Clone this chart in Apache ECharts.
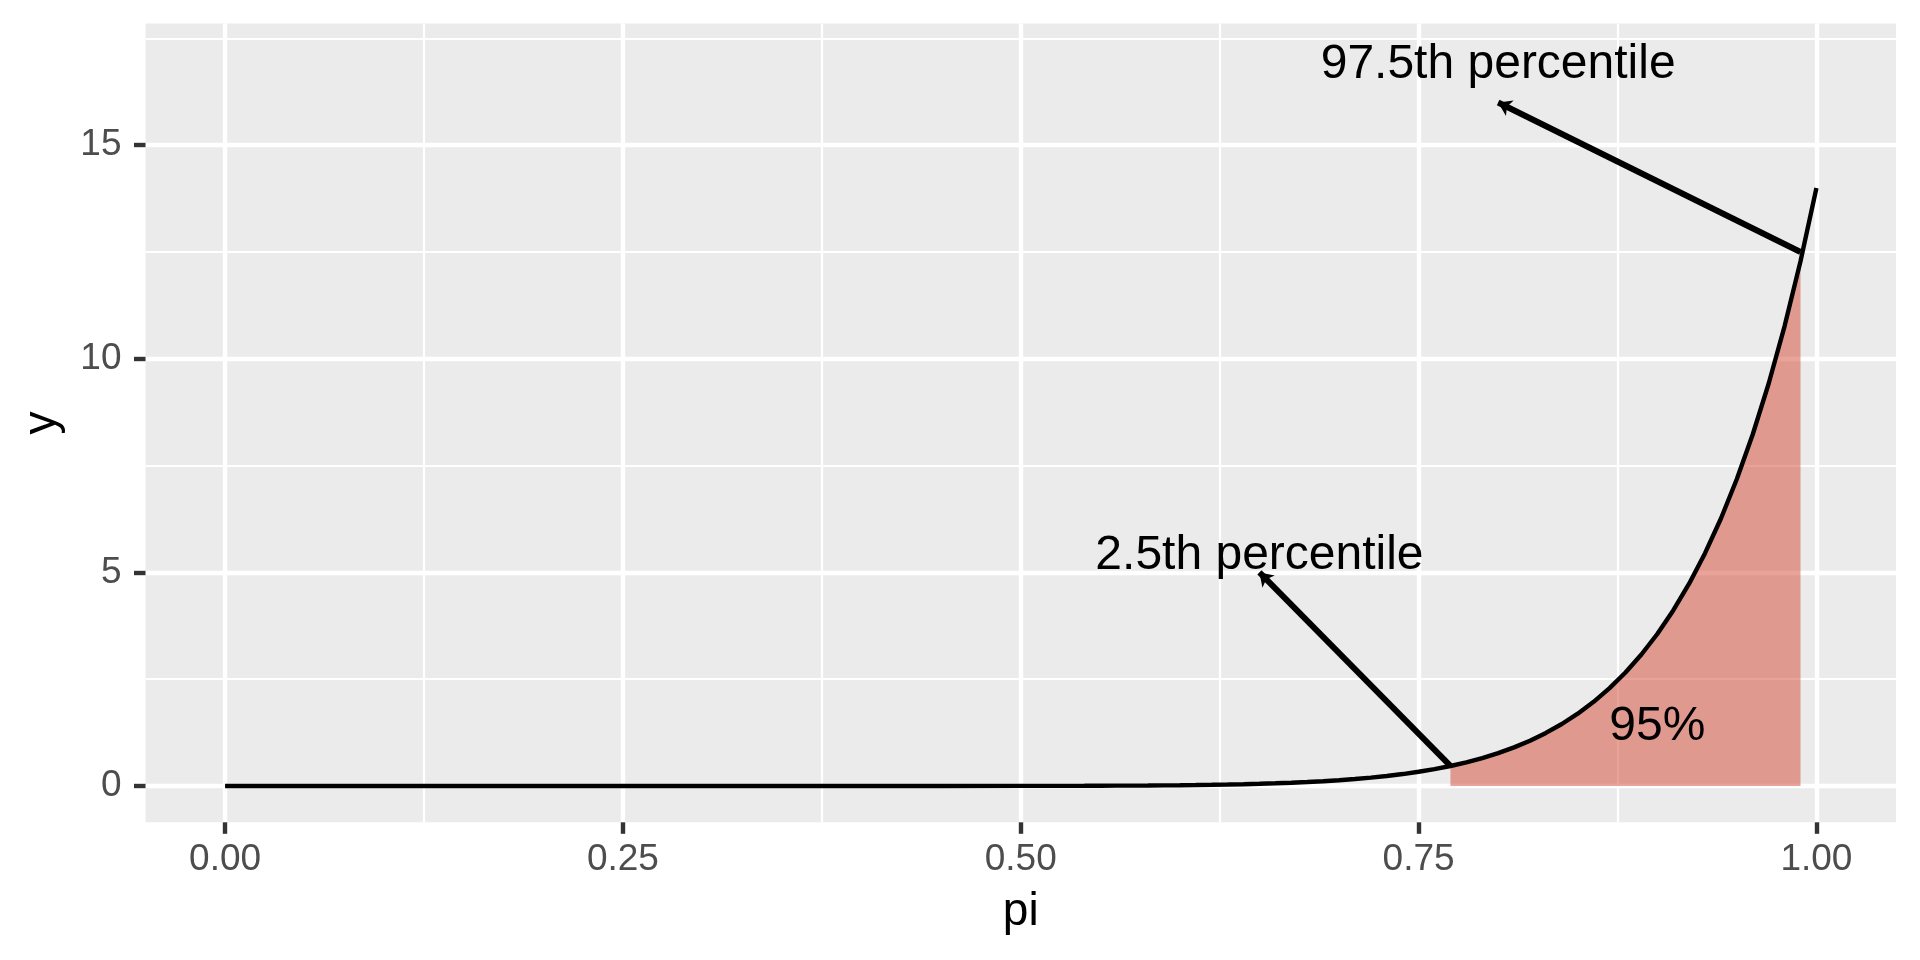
<!DOCTYPE html>
<html>
<head>
<meta charset="utf-8">
<script src="https://cdn.jsdelivr.net/npm/echarts@6/dist/echarts.min.js"></script>
<style>
  html, body { margin: 0; padding: 0; background: #ffffff; }
  #chart { width: 1920px; height: 960px; }
</style>
</head>
<body>
<div id="chart"></div>
<script>
// ---- data ----
const piGrid = [0.00, 0.10, 0.20, 0.30, 0.40, 0.45, 0.50, 0.51, 0.52, 0.53, 0.54, 0.55, 0.56, 0.57, 0.58, 0.59,
  0.60, 0.61, 0.62, 0.63, 0.64, 0.65, 0.66, 0.67, 0.68, 0.69,
  0.70, 0.71, 0.72, 0.73, 0.74, 0.75, 0.76, 0.77, 0.78, 0.79,
  0.80, 0.81, 0.82, 0.83, 0.84, 0.85, 0.86, 0.87, 0.88, 0.89,
  0.90, 0.91, 0.92, 0.93, 0.94, 0.95, 0.96, 0.97, 0.98, 0.99, 1.00];
const density = [0, 0, 0, 0, 0.0001, 0.0004, 0.0017, 0.0022, 0.0029, 0.0037, 0.0047, 0.0059, 0.0075, 0.0094, 0.0118, 0.0147,
  0.0183, 0.0227, 0.0280, 0.0345, 0.0423, 0.0518, 0.0631, 0.0768, 0.0930, 0.1125,
  0.1356, 0.1631, 0.1956, 0.2341, 0.2794, 0.3326, 0.3951, 0.4682, 0.5538, 0.6535,
  0.7697, 0.9046, 1.0608, 1.2419, 1.4514, 1.6927, 1.9709, 2.2903, 2.6569, 3.0778,
  3.5586, 4.1083, 4.7355, 5.4502, 6.2629, 7.1868, 8.2348, 9.4221, 10.7663, 12.2853, 14.0];
const ribbonFrom = 0.77;
const ribbonTo = 0.99;

const labelText = ['97.5th percentile', '2.5th percentile', '95%'];
const labelX = [0.80, 0.65, 0.90];
const labelY = [17, 5.5, 1.5];

const arrowStart = [[0.99, 12.5], [0.77, 0.47]];
const arrowEnd = [[0.80, 16], [0.65, 5]];

const xTicks = [0, 0.25, 0.5, 0.75, 1];
const xMinor = [0.125, 0.375, 0.625, 0.875];
const yTicks = [0, 5, 10, 15];
const yMinor = [2.5, 7.5, 12.5, 17.5];
const xRange = [-0.05, 1.05];
const yRange = [-0.85, 17.85];

// ---- build ----
const FONT = '"Liberation Sans", Arial, Helvetica, sans-serif';
const curve = piGrid.map((x, i) => [x, density[i]]);
const ribbon = curve.filter(p => p[0] >= ribbonFrom - 1e-9 && p[0] <= ribbonTo + 1e-9);
const labels = labelText.map((t, i) => [labelX[i], labelY[i], t]);
const arrows = arrowStart.map((s, i) => ({ coords: [s, arrowEnd[i]] }));

const chart = echarts.init(document.getElementById('chart'), null, { renderer: 'canvas' });
chart.setOption({
  animation: false,
  backgroundColor: '#ffffff',
  grid: {
    left: 145.5, right: 24, top: 23.5, bottom: 137.7,
    show: true, backgroundColor: '#EBEBEB', borderWidth: 0
  },
  xAxis: [
    {
      type: 'value', min: xRange[0], max: xRange[1], position: 'bottom',
      axisLine: { show: false, onZero: false },
      axisTick: { show: true, length: 11.5, customValues: xTicks, lineStyle: { color: '#333333', width: 4.4 } },
      axisLabel: { customValues: xTicks, formatter: v => v.toFixed(2), color: '#4D4D4D', fontSize: 37, fontFamily: FONT, margin: 19 },
      splitLine: { show: true, lineStyle: { color: '#ffffff', width: 4.4 } },
      name: 'pi', nameLocation: 'middle', nameGap: 67,
      nameTextStyle: { color: '#000000', fontSize: 46, fontFamily: FONT }
    },
    {
      type: 'value', min: xRange[0], max: xRange[1], position: 'bottom',
      axisLine: { show: false, onZero: false },
      axisTick: { show: false, customValues: xMinor },
      axisLabel: { show: false },
      splitLine: { show: true, lineStyle: { color: '#ffffff', width: 2.2 } }
    }
  ],
  yAxis: [
    {
      type: 'value', min: yRange[0], max: yRange[1], position: 'left',
      axisLine: { show: false, onZero: false },
      axisTick: { show: true, length: 11.5, customValues: yTicks, lineStyle: { color: '#333333', width: 4.4 } },
      axisLabel: { customValues: yTicks, formatter: v => String(v), color: '#4D4D4D', fontSize: 37, fontFamily: FONT, margin: 24 },
      splitLine: { show: true, lineStyle: { color: '#ffffff', width: 4.4 } },
      name: 'y', nameLocation: 'middle', nameGap: 80, nameRotate: 90,
      nameTextStyle: { color: '#000000', fontSize: 46, fontFamily: FONT }
    },
    {
      type: 'value', min: yRange[0], max: yRange[1], position: 'left',
      axisLine: { show: false, onZero: false },
      axisTick: { show: false, customValues: yMinor },
      axisLabel: { show: false },
      splitLine: { show: true, lineStyle: { color: '#ffffff', width: 2.2 } }
    }
  ],
  series: [
    {
      type: 'line', xAxisIndex: 0, yAxisIndex: 0, data: ribbon,
      showSymbol: false, symbol: 'none', z: 2,
      lineStyle: { width: 0 },
      areaStyle: { color: 'rgba(213,71,49,0.5)', opacity: 1 }
    },
    {
      type: 'line', xAxisIndex: 0, yAxisIndex: 0, data: curve,
      showSymbol: false, symbol: 'none', z: 3,
      lineStyle: { color: '#000000', width: 4.4 }
    },
    {
      type: 'lines', coordinateSystem: 'cartesian2d', xAxisIndex: 0, yAxisIndex: 0,
      data: arrows, z: 4,
      symbol: ['none', 'arrow'], symbolSize: 13,
      lineStyle: { color: '#000000', width: 6, opacity: 1, curveness: 0 }
    },
    {
      type: 'scatter', xAxisIndex: 0, yAxisIndex: 0, data: labels, symbolSize: 0, z: 5,
      itemStyle: { opacity: 1 },
      label: {
        show: true, position: 'inside', formatter: p => p.data[2], offset: [0, 5],
        color: '#000000', opacity: 1, textBorderWidth: 0, fontSize: 48, fontFamily: FONT
      }
    }
  ]
});
</script>
</body>
</html>
